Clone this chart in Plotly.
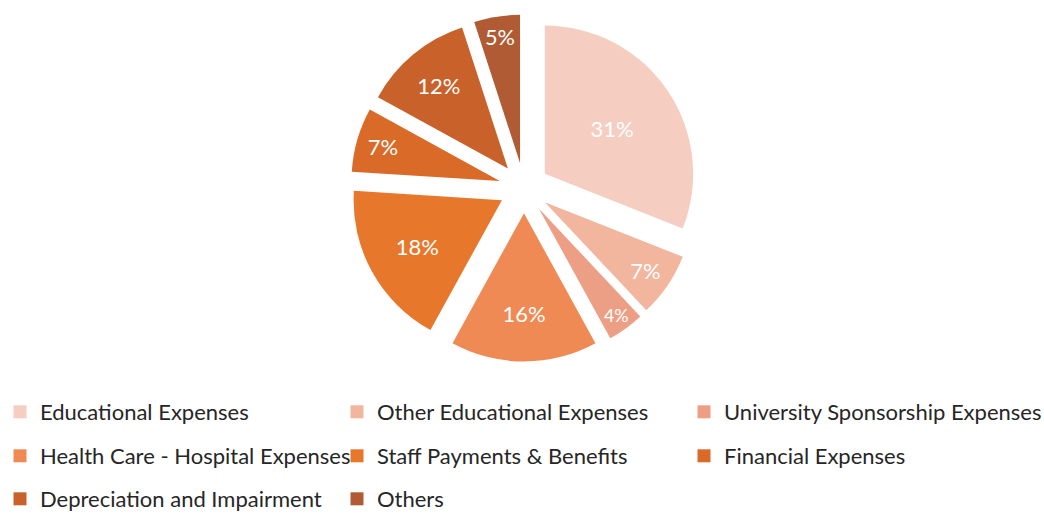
import plotly.graph_objects as go

# Expense categories and their shares (%)
categories = [
    "Educational Expenses",
    "Other Educational Expenses",
    "University Sponsorship Expenses",
    "Health Care - Hospital Expenses",
    "Staff Payments & Benefits",
    "Financial Expenses",
    "Depreciation and Impairment",
    "Others",
]
shares = [31, 7, 4, 16, 18, 7, 12, 5]

slice_colors = [
    "#F5CEC1", "#F2B69F", "#EC9F84", "#EF8A54",
    "#E7772A", "#D96A27", "#C9622A", "#B05B34",
]

FONT = "Lato"
W, H = 1044, 514

fig = go.Figure()

fig.add_trace(
    go.Pie(
        labels=categories,
        values=shares,
        sort=False,
        direction="clockwise",
        rotation=0,
        pull=[0.17] * len(shares),
        marker=dict(colors=slice_colors, line=dict(color="white", width=0)),
        texttemplate="%{percent:.0%}",
        textposition="inside",
        insidetextorientation="horizontal",
        textfont=dict(color="white", size=22, family=FONT),
        domain=dict(x=[0.3357, 0.6681], y=[0.2967, 0.9718]),
        hoverinfo="label+percent",
        showlegend=False,
    )
)

# Legend grid: 3 columns x 3 rows, one legend box per entry
col_left_px = [0, 337, 684]
row_center_px = [412, 456, 499]

legend_layout = {}
for i, (name, color) in enumerate(zip(categories, slice_colors)):
    key = "legend" if i == 0 else f"legend{i + 1}"
    fig.add_trace(
        go.Scatter(
            x=[None],
            y=[None],
            mode="markers",
            name=name,
            marker=dict(symbol="square", size=13, color=color),
            legend=key,
            hoverinfo="skip",
        )
    )
    legend_layout[key] = dict(
        orientation="h",
        x=col_left_px[i % 3] / W,
        xanchor="left",
        y=1 - row_center_px[i // 3] / H,
        yanchor="middle",
        font=dict(size=22, family=FONT, color="#262626"),
        bgcolor="rgba(0,0,0,0)",
        itemclick=False,
        itemdoubleclick=False,
    )

fig.update_layout(
    width=W,
    height=H,
    margin=dict(l=0, r=0, t=0, b=0, autoexpand=False),
    paper_bgcolor="white",
    plot_bgcolor="white",
    font=dict(family=FONT, size=22, color="#262626"),
    xaxis=dict(visible=False),
    yaxis=dict(visible=False),
    **legend_layout,
)

fig.write_html("out.html")
